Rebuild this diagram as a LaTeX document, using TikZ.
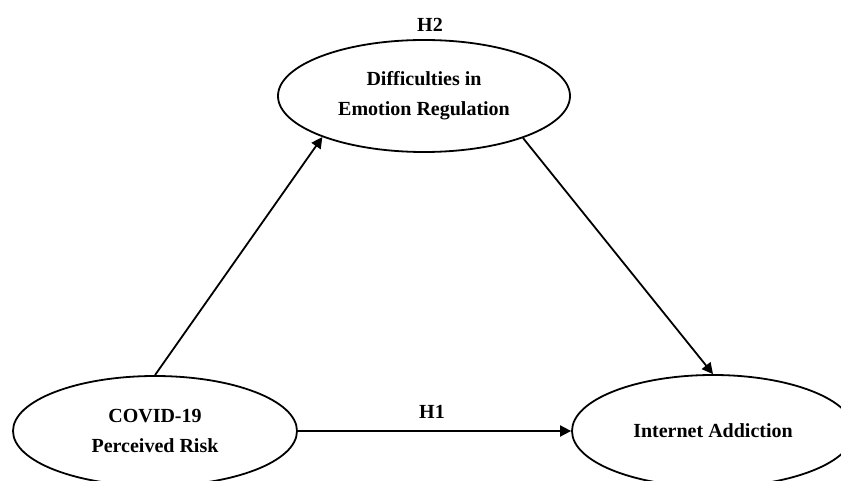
\documentclass[tikz,border=0pt]{standalone}
\usepackage{fontspec}
\setmainfont{Liberation Serif}
\usetikzlibrary{arrows.meta,shapes.geometric}
\begin{document}
\begin{tikzpicture}[x=1pt,y=-1pt,
  construct/.style={draw=black,line width=1.8pt,ellipse,inner sep=0pt,
    align=center,font=\fontsize{20}{30}\selectfont\bfseries},
  path/.style={draw=black,line width=1.8pt,-{Triangle[length=11pt,width=11pt]}},
  hyp/.style={font=\fontsize{20}{24}\selectfont\bfseries}]
\useasboundingbox (0,0) rectangle (841,481);
\clip (0,0) rectangle (841,481);
\fill[white] (0,0) rectangle (841,481);
\node[construct,minimum width=292pt,minimum height=112pt] (der) at (424,96)
  {Difficulties in\\Emotion Regulation};
\node[construct,minimum width=284pt,minimum height=110pt] (cov) at (155,431)
  {COVID-19\\Perceived Risk};
\node[construct,minimum width=282pt,minimum height=112pt] (ia) at (713,431)
  {Internet Addiction};
\node[hyp] (h2) at (430,25) {H2};
\node[hyp] (h1) at (432,412) {H1};
\draw[path] (cov.north) -- (der.202);
\draw[path] (der.337) -- (ia.north);
\draw[path] (cov.east) -- (ia.west);
\end{tikzpicture}
\end{document}
